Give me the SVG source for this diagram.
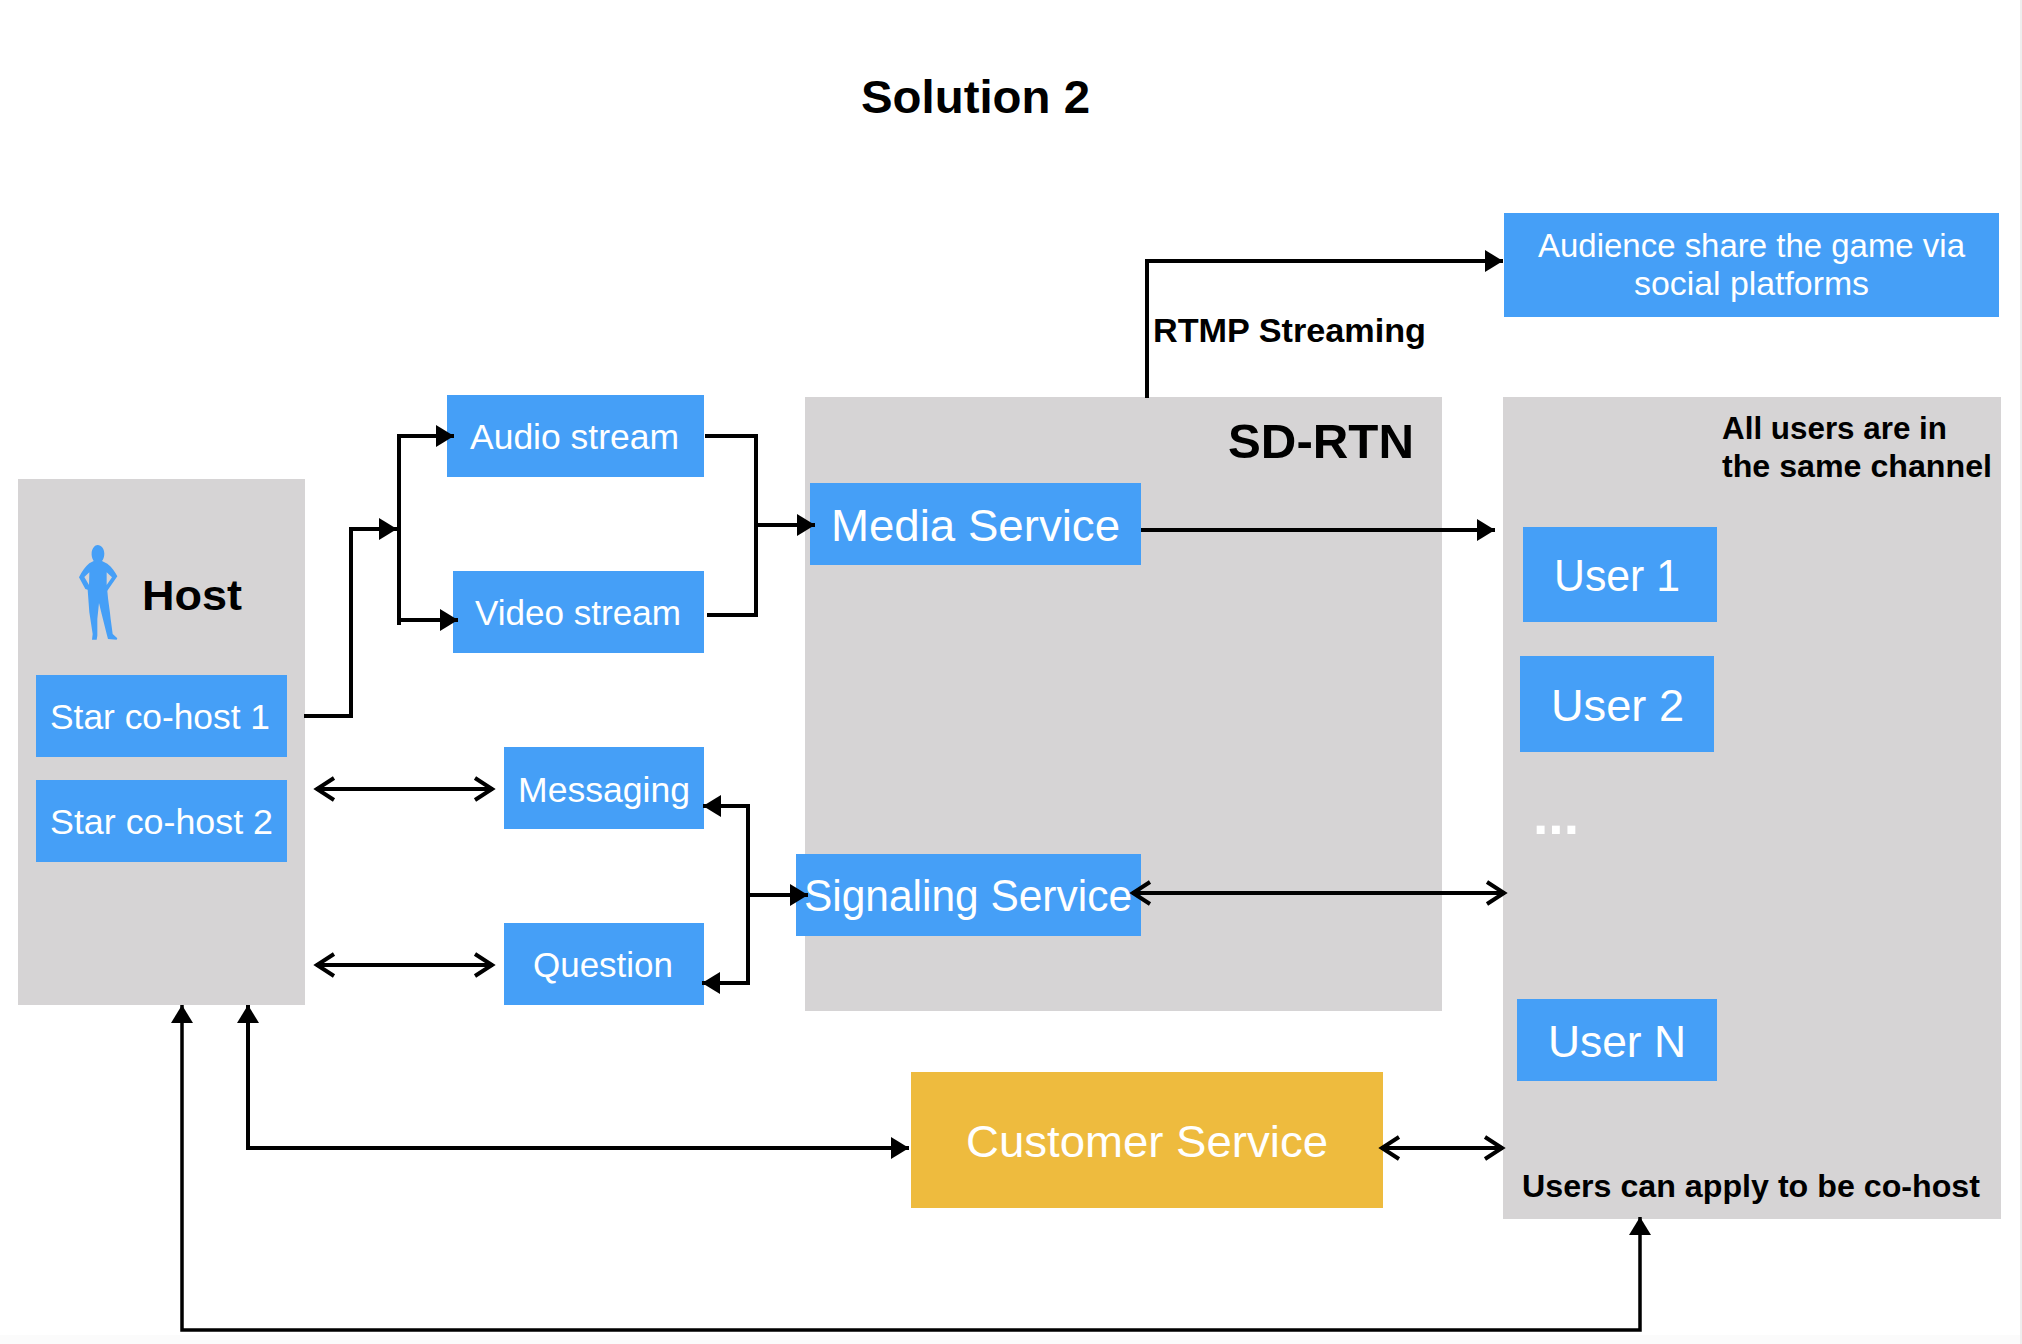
<svg xmlns="http://www.w3.org/2000/svg" width="2022" height="1344" viewBox="0 0 2022 1344">
<style>
text{font-family:"Liberation Sans",Arial,sans-serif}
.b{fill:#459ff7}.g{fill:#d6d4d5}.y{fill:#eebb3e}
.w{fill:#fff}.k{fill:#000;font-weight:700}
.s35{font-size:35px}.s45{font-size:45px}.s32{font-size:33px}
.c{fill:none;stroke:#000;stroke-width:4}
.thin{stroke-width:3.5}
.solid{marker-end:url(#tri)}
.solid2{marker-start:url(#tri);marker-end:url(#tri)}
.both{marker-start:url(#open);marker-end:url(#open)}
</style>
<defs>
<marker id="tri" markerUnits="userSpaceOnUse" markerWidth="20" markerHeight="24" refX="18" refY="11" orient="auto-start-reverse"><path d="M0 0L18 11L0 22Z" fill="#000"/></marker>
<marker id="open" markerUnits="userSpaceOnUse" markerWidth="24" markerHeight="30" refX="21" refY="13" orient="auto-start-reverse"><path d="M3 2L20 13L3 24" fill="none" stroke="#000" stroke-width="4"/></marker>
</defs>
<rect width="2022" height="1344" fill="#fff"/>
<rect x="0" y="1335" width="2022" height="9" fill="#fbfbfb"/>
<rect x="2020" y="0" width="2" height="1344" fill="#eeeeee"/>
<g id="title"><text class="k" x="861" y="113" font-size="47" textLength="229" lengthAdjust="spacingAndGlyphs">Solution 2</text></g>
<g id="host-group">
<rect class="g" x="18" y="479" width="287" height="526"/>
<path class="b" fill-rule="evenodd" transform="translate(50 519) scale(.3333)" d="M143 78C154 78 163 90 163 104C163 115 159 122 156 126L172 134C186 145 195 158 202 172L174 212L172 216C174 245 180 275 182 300L188 345L202 358L200 362L174 360L170 345L155 285L147 252L142 300L142 350L140 362L126 362L128 345L118 280L113 212L106 210L87 175C96 158 106 142 118 133L131 126C126 118 124 110 125 100C127 88 134 78 143 78ZM118 160L103 174L117 198ZM170 160L186 175L170 198Z"/>
<text class="k" x="142" y="610" font-size="43" textLength="100" lengthAdjust="spacingAndGlyphs">Host</text>
</g>
<g id="star1"><rect class="b" x="36" y="675" width="251" height="82"/><text class="w s35" x="50" y="729" textLength="220" lengthAdjust="spacingAndGlyphs">Star co-host 1</text></g>
<g id="star2"><rect class="b" x="36" y="780" width="251" height="82"/><text class="w s35" x="50" y="834" textLength="223" lengthAdjust="spacingAndGlyphs">Star co-host 2</text></g>
<g id="audio"><rect class="b" x="447" y="395" width="257" height="82"/><text class="w s35" x="470" y="449" textLength="209" lengthAdjust="spacingAndGlyphs">Audio stream</text></g>
<g id="video"><rect class="b" x="453" y="571" width="251" height="82"/><text class="w s35" x="475" y="625" textLength="206" lengthAdjust="spacingAndGlyphs">Video stream</text></g>
<g id="messaging"><rect class="b" x="504" y="747" width="200" height="82"/><text class="w s35" x="518" y="802" textLength="172" lengthAdjust="spacingAndGlyphs">Messaging</text></g>
<g id="question"><rect class="b" x="504" y="923" width="200" height="82"/><text class="w s35" x="533" y="977" textLength="140" lengthAdjust="spacingAndGlyphs">Question</text></g>
<g id="sd-rtn">
<rect class="g" x="805" y="397" width="637" height="614"/>
<text class="k" x="1228" y="458" font-size="48" textLength="186" lengthAdjust="spacingAndGlyphs">SD-RTN</text>
</g>
<g id="media"><rect class="b" x="810" y="483" width="331" height="82"/><text class="w s45" x="831" y="541" textLength="289" lengthAdjust="spacingAndGlyphs">Media Service</text></g>
<g id="signaling"><rect class="b" x="796" y="854" width="345" height="82"/><text class="w s45" x="804" y="911" textLength="328" lengthAdjust="spacingAndGlyphs">Signaling Service</text></g>
<g id="audience"><rect class="b" x="1504" y="213" width="495" height="104"/>
<text class="w s32" x="1538" y="257" textLength="427" lengthAdjust="spacingAndGlyphs">Audience share the game via</text>
<text class="w s32" x="1634" y="295" textLength="235" lengthAdjust="spacingAndGlyphs">social platforms</text></g>
<g id="users">
<rect class="g" x="1503" y="397" width="498" height="822"/>
<text class="k" x="1722" y="439" font-size="32" textLength="225" lengthAdjust="spacingAndGlyphs">All users are in</text>
<text class="k" x="1722" y="477" font-size="32" textLength="270" lengthAdjust="spacingAndGlyphs">the same channel</text>
<text class="w" x="1533" y="834" font-size="56" font-weight="700" textLength="46" lengthAdjust="spacingAndGlyphs">...</text>
<text class="k" x="1522" y="1197" font-size="32" textLength="458" lengthAdjust="spacingAndGlyphs">Users can apply to be co-host</text>
</g>
<g id="user1"><rect class="b" x="1523" y="527" width="194" height="95"/><text class="w s45" x="1554" y="591" textLength="126" lengthAdjust="spacingAndGlyphs">User 1</text></g>
<g id="user2"><rect class="b" x="1520" y="656" width="194" height="96"/><text class="w s45" x="1551" y="721" textLength="133" lengthAdjust="spacingAndGlyphs">User 2</text></g>
<g id="usern"><rect class="b" x="1517" y="999" width="200" height="82"/><text class="w s45" x="1548" y="1057" textLength="138" lengthAdjust="spacingAndGlyphs">User N</text></g>
<g id="customer"><rect class="y" x="911" y="1072" width="472" height="136"/><text class="w s45" x="966" y="1157" textLength="362" lengthAdjust="spacingAndGlyphs">Customer Service</text></g>
<text class="k" x="1153" y="342" font-size="34" textLength="273" lengthAdjust="spacingAndGlyphs">RTMP Streaming</text>
<g id="connectors">
<path class="c solid" d="M304 716H351V529H397"/>
<path class="c" d="M399 434V625"/>
<path class="c solid" d="M401 436H454"/>
<path class="c solid" d="M401 620H458"/>
<path class="c" d="M705 436H756V615H707"/>
<path class="c solid" d="M756 525H815"/>
<path class="c both" d="M316 789H493"/>
<path class="c both" d="M316 965H493"/>
<path class="c solid" d="M748 895H808"/>
<path class="c solid2" d="M703 806H748V983H702"/>
<path class="c solid" d="M1147 398V261H1503"/>
<path class="c solid" d="M1141 530H1495"/>
<path class="c both" d="M1132 893H1505"/>
<path class="c both" d="M1381 1148H1503"/>
<path class="c solid2" d="M248 1005V1148H909"/>
<path class="c thin solid2" d="M182 1005V1330H1640V1217"/>
</g>
</svg>
